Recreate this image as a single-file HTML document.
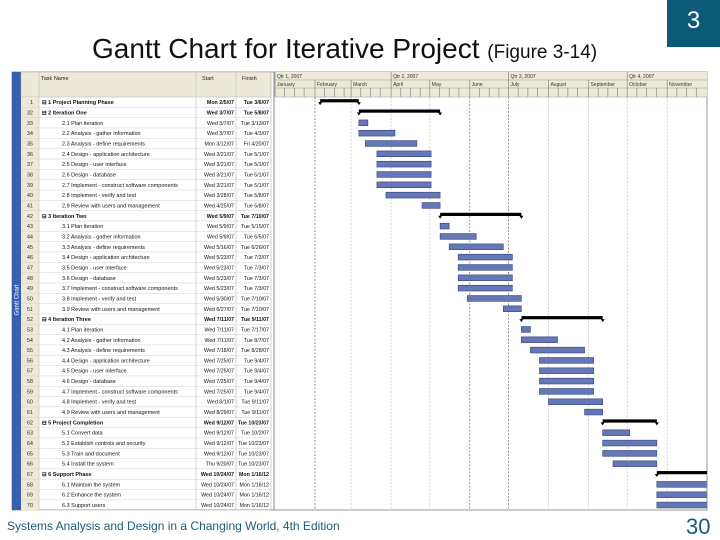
<!DOCTYPE html>
<html><head><meta charset="utf-8"><style>
body{margin:0;width:720px;height:540px;background:#fff;position:relative;overflow:hidden;font-family:"Liberation Sans",sans-serif}
.abs{position:absolute}
</style></head><body>
<div class="abs" style="left:92px;top:33px;font-size:28px;color:#111;white-space:nowrap">Gantt Chart for Iterative Project <span style="font-size:19px">(Figure 3-14)</span></div>
<div class="abs" style="left:667px;top:0;width:53px;height:47px;background:#0d5a78;color:#fff;font-size:24px;text-align:center;line-height:42px">3</div>
<div class="abs" style="left:7px;top:519px;font-size:12px;color:#1b5d7a;white-space:nowrap">Systems Analysis and Design in a Changing World, 4th Edition</div>
<div class="abs" style="left:686px;top:514px;font-size:22px;color:#1b5d7a">30</div>
<svg class="abs" style="left:0;top:0" width="720" height="540" id="g"></svg>
<script>
const rowIds=["1","32","33","34","35","36","37","38","39","40","41","42","43","44","45","46","47","48","49","50","51","52","53","54","55","56","57","58","59","60","61","62","63","64","65","66","67","68","69","70"];
const taskNames=["1 Project Planning Phase","2 Iteration One","2.1 Plan iteration","2.2 Analysis - gather information","2.3 Analysis - define requirements","2.4 Design - application architecture","2.5 Design - user interface","2.6 Design - database","2.7 Implement - construct software components","2.8 Implement - verify and test","2.9 Review with users and management","3 Iteration Two","3.1 Plan iteration","3.2 Analysis - gather information","3.3 Analysis - define requirements","3.4 Design - application architecture","3.5 Design - user interface","3.6 Design - database","3.7 Implement - construct software components","3.8 Implement - verify and test","3.9 Review with users and management","4 Iteration Three","4.1 Plan iteration","4.2 Analysis - gather information","4.3 Analysis - define requirements","4.4 Design - application architecture","4.5 Design - user interface","4.6 Design - database","4.7 Implement - construct software components","4.8 Implement - verify and test","4.9 Review with users and management","5 Project Completion","5.1 Convert data","5.2 Establish controls and security","5.3 Train and document","5.4 Install the system","6 Support Phase","6.1 Maintain the system","6.2 Enhance the system","6.3 Support users"];
const startDates=["2007-02-05","2007-03-07","2007-03-07","2007-03-07","2007-03-12","2007-03-21","2007-03-21","2007-03-21","2007-03-21","2007-03-28","2007-04-25","2007-05-09","2007-05-09","2007-05-09","2007-05-16","2007-05-23","2007-05-23","2007-05-23","2007-05-23","2007-05-30","2007-06-27","2007-07-11","2007-07-11","2007-07-11","2007-07-18","2007-07-25","2007-07-25","2007-07-25","2007-07-25","2007-08-01","2007-08-29","2007-09-12","2007-09-12","2007-09-12","2007-09-12","2007-09-20","2007-10-24","2007-10-24","2007-10-24","2007-10-24"];
const finishDates=["2007-03-06","2007-05-08","2007-03-13","2007-04-03","2007-04-20","2007-05-01","2007-05-01","2007-05-01","2007-05-01","2007-05-08","2007-05-08","2007-07-10","2007-05-15","2007-06-05","2007-06-26","2007-07-03","2007-07-03","2007-07-03","2007-07-03","2007-07-10","2007-07-10","2007-09-11","2007-07-17","2007-08-07","2007-08-28","2007-09-04","2007-09-04","2007-09-04","2007-09-04","2007-09-11","2007-09-11","2007-10-23","2007-10-02","2007-10-23","2007-10-23","2007-10-23","2012-01-16","2012-01-16","2012-01-16","2012-01-16"];
const isSummary=[1,1,0,0,0,0,0,0,0,0,0,1,0,0,0,0,0,0,0,0,0,1,0,0,0,0,0,0,0,0,0,1,0,0,0,0,1,0,0,0];
const monthLabels=["January","February","March","April","May","June","July","August","September","October","November"];
const quarterLabels=["Qtr 1, 2007","Qtr 2, 2007","Qtr 3, 2007","Qtr 4, 2007"];
const NS="http://www.w3.org/2000/svg",svg=document.getElementById('g');
function el(t,a,p){const e=document.createElementNS(NS,t);for(const k in a)e.setAttribute(k,a[k]);(p||svg).appendChild(e);return e;}
const X0=275,X1=707,Y0=97,RH=10.33,DPX=1.29;
function dayOf(s){const d=new Date(s+"T00:00:00Z");return (d-Date.UTC(2007,0,1))/864e5;}
function xs(s){return X0+dayOf(s)*DPX;}
function fmt(s){const d=new Date(s+"T00:00:00Z");const w=["Sun","Mon","Tue","Wed","Thu","Fri","Sat"][d.getUTCDay()];return w+" "+(d.getUTCMonth()+1)+"/"+d.getUTCDate()+"/"+String(d.getUTCFullYear()).slice(2);}
el('rect',{x:12,y:72,width:695,height:438,fill:'#fff',stroke:'#999','stroke-width':1});
el('rect',{x:12,y:72,width:9,height:438,fill:'#3560b0'});
let vt=el('text',{x:0,y:0,'font-size':6,fill:'#fff',transform:'translate(18.5,300) rotate(-90)','text-anchor':'middle'});vt.textContent='Gantt Chart';
el('rect',{x:21,y:72,width:250,height:25,fill:'#ece9d8',stroke:'#aaa','stroke-width':0.5});
el('rect',{x:21,y:97,width:18,height:413,fill:'#ece9d8'});
[[41,"Task Name"],[202,"Start"],[242,"Finish"]].forEach(h=>{const t=el('text',{x:h[0],y:80,'font-size':5.5,fill:'#222'});t.textContent=h[1];});
[39,196,236,271].forEach(x=>el('line',{x1:x,y1:72,x2:x,y2:510,stroke:'#bbb','stroke-width':0.6}));
el('line',{x1:274,y1:72,x2:274,y2:510,stroke:'#888','stroke-width':1});
el('rect',{x:X0,y:72,width:X1-X0,height:25,fill:'#ece9d8'});
const monthStarts=["2007-01-01","2007-02-01","2007-03-01","2007-04-01","2007-05-01","2007-06-01","2007-07-01","2007-08-01","2007-09-01","2007-10-01","2007-11-01","2007-12-01"];
el('line',{x1:X0,y1:80,x2:X1,y2:80,stroke:'#999','stroke-width':0.5});
el('line',{x1:X0,y1:88,x2:X1,y2:88,stroke:'#999','stroke-width':0.5});
quarterLabels.forEach((q,i)=>{const x=xs(monthStarts[i*3]);el('line',{x1:x,y1:72,x2:x,y2:80,stroke:'#777','stroke-width':0.6});const t=el('text',{x:x+2,y:78,'font-size':5,fill:'#333'});t.textContent=q;});
monthLabels.forEach((m,i)=>{const x=xs(monthStarts[i]);el('line',{x1:x,y1:80,x2:x,y2:88,stroke:'#777','stroke-width':0.6});const t=el('text',{x:x+2,y:86,'font-size':5,fill:'#333'});t.textContent=m;
 for(let k=0;k<4;k++){const tx=x+k*9.7;el('line',{x1:tx,y1:88,x2:tx,y2:97,stroke:'#777','stroke-width':0.6});}
 const dark=[1,5,6].includes(i);
 if(i>0)el('line',{x1:x,y1:97,x2:x,y2:510,stroke:dark?'#555':'#bbb','stroke-width':0.6,'stroke-dasharray':'2,1.5'});
});
el('line',{x1:X0,y1:97,x2:X1,y2:97,stroke:'#999','stroke-width':0.5});
const clip=el('clipPath',{id:'cp'});el('rect',{x:X0,y:97,width:X1-X0,height:413},clip);
const bars=el('g',{'clip-path':'url(#cp)'});
taskNames.forEach((n,i)=>{
 const y=Y0+i*RH,cy=y+RH/2,s=isSummary[i];
 el('line',{x1:21,y1:y+RH,x2:271,y2:y+RH,stroke:'#d4d0c8','stroke-width':0.5});
 let t=el('text',{x:33,y:cy+2,'font-size':5.5,fill:'#333','text-anchor':'end'});t.textContent=rowIds[i];
 
 t=el('text',{x:s?42:62,y:cy+2,'font-size':5.5,fill:'#111','font-weight':s?'bold':'normal'});t.textContent=(s?"\u229F ":"")+n;
 
 t=el('text',{x:234,y:cy+2,'font-size':5.3,fill:'#111','text-anchor':'end','font-weight':s?'bold':'normal'});t.textContent=fmt(startDates[i]);
 
 t=el('text',{x:269,y:cy+2,'font-size':5.3,fill:'#111','text-anchor':'end','font-weight':s?'bold':'normal'});t.textContent=fmt(finishDates[i]);
 
 const x1=xs(startDates[i]),x2=xs(finishDates[i])+DPX;
 if(s){
  const b=el('rect',{x:x1,y:cy-3,width:x2-x1,height:3.2,fill:'#000'},bars);
  
  el('polygon',{points:`${x1-2},${cy} ${x1+2},${cy} ${x1},${cy+3}`,fill:'#000'},bars);
  el('polygon',{points:`${x2-2},${cy} ${x2+2},${cy} ${x2},${cy+3}`,fill:'#000'},bars);
 }else{
  const b=el('rect',{x:x1,y:cy-2.9,width:x2-x1,height:5.8,fill:'#6677b5',stroke:'#34457f','stroke-width':0.6},bars);
  
 }
});
</script>
</body></html>
